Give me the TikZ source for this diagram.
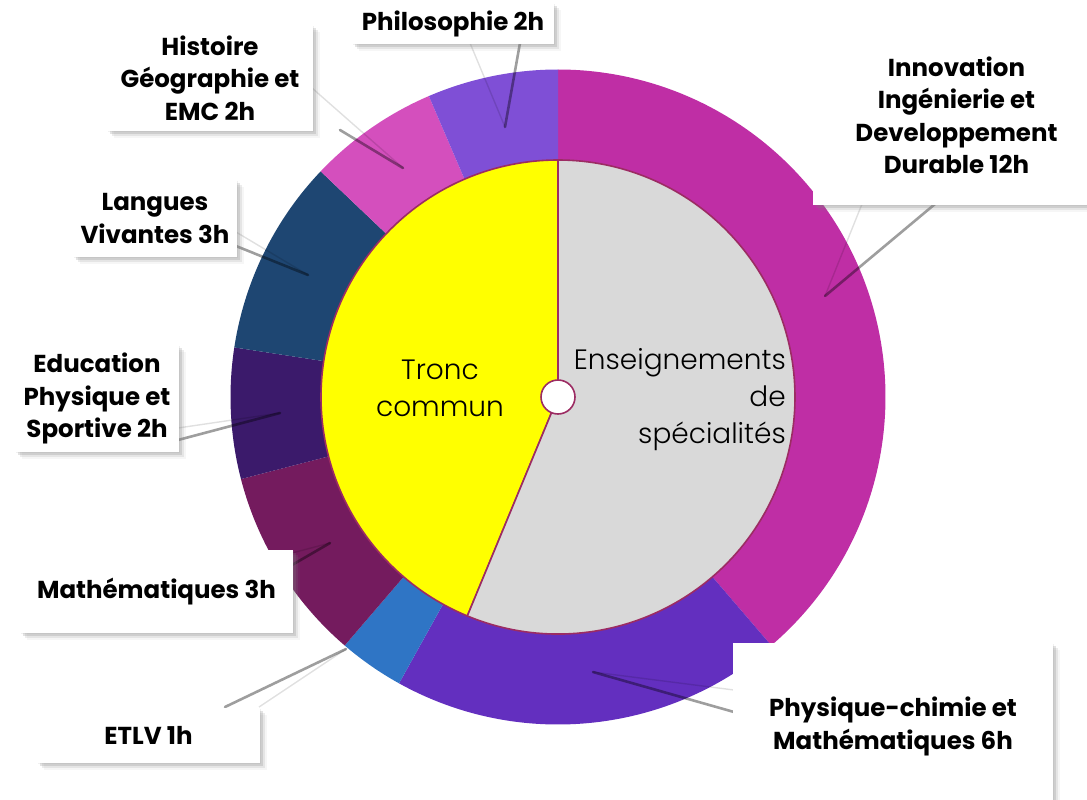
\documentclass[tikz,border=0pt]{standalone}
\usepackage{fontspec}
\setmainfont{Poppins}
\newfontfamily\lightfont{Poppins Light}
\usetikzlibrary{shadows,calc}
\definecolor{cInno}{HTML}{BF2EA5}
\definecolor{cPhys}{HTML}{632FBF}
\definecolor{cEtlv}{HTML}{2F75C5}
\definecolor{cMath}{HTML}{741B5E}
\definecolor{cEps}{HTML}{3B1A6B}
\definecolor{cLang}{HTML}{1E4672}
\definecolor{cHist}{HTML}{D44FBD}
\definecolor{cPhilo}{HTML}{7F4FD6}
\definecolor{cGray}{HTML}{D9D9D9}
\definecolor{cYellow}{HTML}{FFFF00}
\definecolor{cBorder}{HTML}{9C2C63}
\newcommand\ringsector[3]{\fill[#3] (#1:237) arc[start angle=#1,end angle=#2,radius=237] -- (#2:327.5) arc[start angle=#2,end angle=#1,radius=327.5] -- cycle;}
\tikzset{
  lbl/.style={fill=white,
    drop shadow={shadow xshift=1pt,shadow yshift=-1pt,opacity=.12},
    drop shadow={shadow xshift=3pt,shadow yshift=-3pt,opacity=.22},
    drop shadow={shadow xshift=5pt,shadow yshift=-5pt,opacity=.15},
    drop shadow={shadow xshift=7pt,shadow yshift=-7pt,opacity=.07},
    font=\bfseries\fontsize{24.5}{32.5}\selectfont, align=center, inner sep=0pt},
  inner text/.style={font=\lightfont\fontsize{28}{37}\selectfont, inner sep=0pt},
  ptrmain/.style={draw=black, opacity=.38, line width=2.6pt},
  ptrside/.style={draw=black, opacity=.12, line width=1.4pt}
}
\begin{document}
\begin{tikzpicture}[x=1pt,y=-1pt]
\useasboundingbox (0,0) rectangle (1087,800);
\coordinate (O) at (558,397);
% ring and pie
\begin{scope}[shift={(O)}, y=1pt]
  \ringsector{90}{-49.355}{cInno}
  \ringsector{-49.355}{-119.032}{cPhys}
  \ringsector{-119.032}{-130.645}{cEtlv}
  \ringsector{-130.645}{-165.484}{cMath}
  \ringsector{-165.484}{-188.710}{cEps}
  \ringsector{-188.710}{-223.548}{cLang}
  \ringsector{-223.548}{-246.774}{cHist}
  \ringsector{-246.774}{-270}{cPhilo}
  \filldraw[fill=cYellow, draw=cBorder, line width=1.6pt] (0,0) -- (90:237) arc[start angle=90,end angle=247.5,radius=237] -- cycle;
  \filldraw[fill=cGray, draw=cBorder, line width=1.6pt] (0,0) -- (247.5:237) arc[start angle=247.5,end angle=450,radius=237] -- cycle;
  \filldraw[fill=white, draw=cBorder, line width=1.6pt] (0,0) circle[radius=17];
\end{scope}
\node[inner text, align=center] (tc) at (440,388) {Tronc\\commun};
\node[inner text, align=right, anchor=east] (es) at (786,400) {Enseignements\\de\\spécialités};
% pointer coordinates (a = light edge, b = shadow edge, t = tip)
\coordinate (t1) at (825,296); \coordinate (a1) at (862,204); \coordinate (b1) at (935,204);
\coordinate (t2) at (505,127); \coordinate (a2) at (470,43); \coordinate (b2) at (520,43);
\coordinate (t3) at (403,168); \coordinate (a3) at (312,88); \coordinate (b3) at (340,130);
\coordinate (t4) at (308,275); \coordinate (a4) at (236,232); \coordinate (b4) at (236,246);
\coordinate (t5) at (280,413); \coordinate (a5) at (178,428); \coordinate (b5) at (178,440);
\coordinate (t6) at (330,543); \coordinate (a6) at (292,553); \coordinate (b6) at (292,565);
\coordinate (t7) at (346,649); \coordinate (a7) at (259,707); \coordinate (b7) at (225,707);
\coordinate (t8) at (593,672); \coordinate (a8) at (734,690); \coordinate (b8) at (734,712);
\foreach \i in {1,...,8}{
  \draw[ptrside] (a\i) -- (t\i);
  \draw[ptrmain, line cap=round] (b\i) -- (t\i);
}
% label boxes
\node[lbl, minimum width=287pt, minimum height=179pt] (inno) at (956.5,115.5) {Innovation\\Ingénierie et\\Developpement\\Durable 12h};
\node[lbl, minimum width=202pt, minimum height=41pt] (philo) at (453,24) {Philosophie 2h};
\node[lbl, minimum width=206pt, minimum height=106pt] (hist) at (210,78) {Histoire\\Géographie et\\EMC 2h};
\node[lbl, minimum width=164pt, minimum height=77pt] (lang) at (155,218.5) {Langues\\Vivantes 3h};
\node[lbl, minimum width=164pt, minimum height=107pt] (eps) at (97,398.5) {Education\\Physique et\\Sportive 2h};
\node[lbl, minimum width=273pt, minimum height=83pt] (math) at (156.5,591.5) {Mathématiques 3h};
\node[lbl, minimum width=223pt, minimum height=55pt] (etlv) at (148.5,735.5) {ETLV 1h};
\node[lbl, minimum width=320pt, minimum height=167pt] (phys) at (893,726.5) {Physique-chimie et\\Mathématiques 6h};
\end{tikzpicture}
\end{document}
